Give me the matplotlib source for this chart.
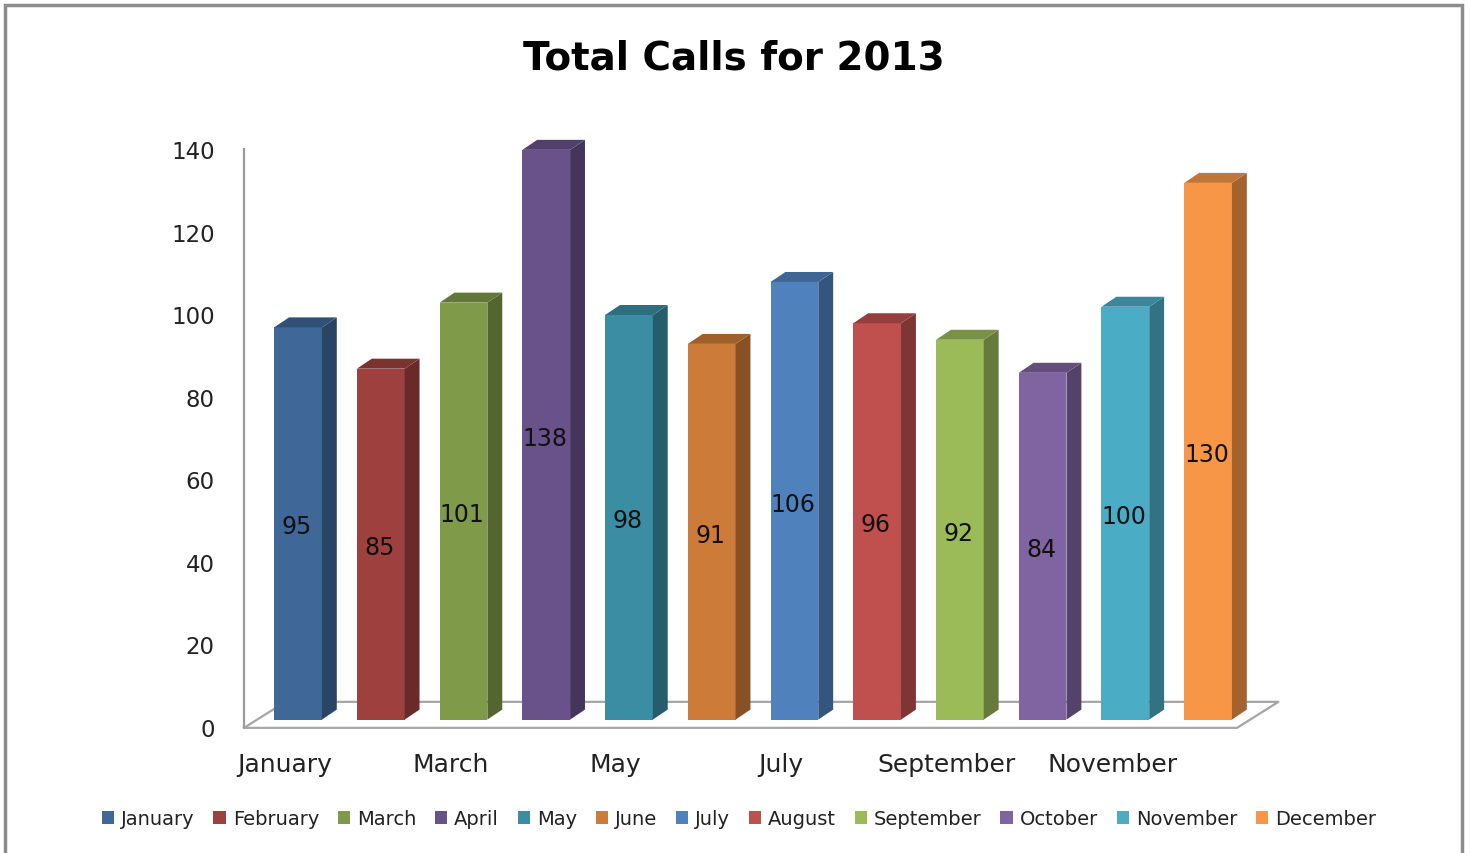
import matplotlib
matplotlib.use('Agg')
import matplotlib.pyplot as plt
import matplotlib.patches as patches
import matplotlib.colors as mcolors

months = ['January', 'February', 'March', 'April', 'May', 'June',
          'July', 'August', 'September', 'October', 'November', 'December']
calls = [95, 85, 101, 138, 98, 91, 106, 96, 92, 84, 100, 130]
colors = ['#3F6797', '#9E413E', '#7F9A48', '#69518A', '#3A8DA3', '#CC7B38',
          '#4F81BD', '#C0504D', '#9BBB59', '#8064A2', '#4BACC6', '#F79646']
yticks = [0, 20, 40, 60, 80, 100, 120, 140]


def shade(c, f):
    r, g, b = mcolors.to_rgb(c)
    return (r * f, g * f, b * f)


fig = plt.figure(figsize=(14.7, 8.54), dpi=100)
fig.patch.set_facecolor('white')
ax = fig.add_axes([0.16599, 0.1185, 0.71211, 0.7300])
ax.set_xlim(-0.653, 12.0)
ax.set_ylim(-6, 145)

# 3d look: depth offsets in data units
dx, dy = 0.18, 2.42
base = 1.8
w = 0.577

# floor
fl_dx, fl_front, fl_back = 0.5, -0.2, 6.1
x0, x1 = -0.653, 11.35
ax.plot([x0, x1, x1 + fl_dx, x0 + fl_dx, x0],
        [fl_front, fl_front, fl_back, fl_back, fl_front],
        color='#A6A6A6', lw=1.6, zorder=1, clip_on=False)

for i, (v, c) in enumerate(zip(calls, colors)):
    left = i - w / 2
    top = base + v
    front = patches.Rectangle((left, base), w, v, facecolor=c, edgecolor='none', zorder=3)
    side = patches.Polygon([(left + w, base), (left + w + dx, base + dy),
                            (left + w + dx, top + dy), (left + w, top)],
                           closed=True, facecolor=shade(c, 0.66), edgecolor='none', zorder=3)
    topf = patches.Polygon([(left, top), (left + w, top), (left + w + dx, top + dy),
                            (left + dx, top + dy)],
                           closed=True, facecolor=shade(c, 0.78), edgecolor='none', zorder=3)
    ax.add_patch(front)
    ax.add_patch(side)
    ax.add_patch(topf)
    ax.text(i - 0.02, base + v / 2 - 0.7, str(v), ha='center', va='center', fontsize=17,
            color='#111111', zorder=4)

# axes styling
for s in ['top', 'right', 'bottom']:
    ax.spines[s].set_visible(False)
ax.spines['left'].set_bounds(0, 140)
ax.spines['left'].set_color('#9A9A9A')
ax.spines['left'].set_linewidth(1.6)
ax.set_yticks(yticks)
ax.tick_params(axis='y', length=0, pad=21, labelsize=16.5, labelcolor='#222222')

ax.set_xticks([i - 0.16 for i in range(0, 12, 2)])
ax.set_xticklabels(months[::2])
ax.tick_params(axis='x', length=0, pad=0, labelsize=18, labelcolor='#222222')

fig.text(0.499, (854 - 59) / 854, 'Total Calls for 2013', ha='center', va='center',
         fontsize=28, fontweight='bold', color='black')

handles = [patches.Patch(facecolor=c, edgecolor='none', label=m) for m, c in zip(months, colors)]
fig.legend(handles=handles, loc='center', bbox_to_anchor=(739 / 1470, (854 - 820) / 854),
           ncol=12, frameon=False, fontsize=14, handlelength=0.65, handleheight=0.65,
           handletextpad=0.35, columnspacing=0.95, labelcolor='#222222')

# outer border
fig.add_artist(patches.Rectangle((5 / 1470, -0.02), 1457 / 1470, (854 - 6) / 854 + 0.02,
                                 transform=fig.transFigure, fill=False,
                                 edgecolor='#8C8C8C', lw=2.5))

fig.savefig('out.png', dpi=100, facecolor='white')
